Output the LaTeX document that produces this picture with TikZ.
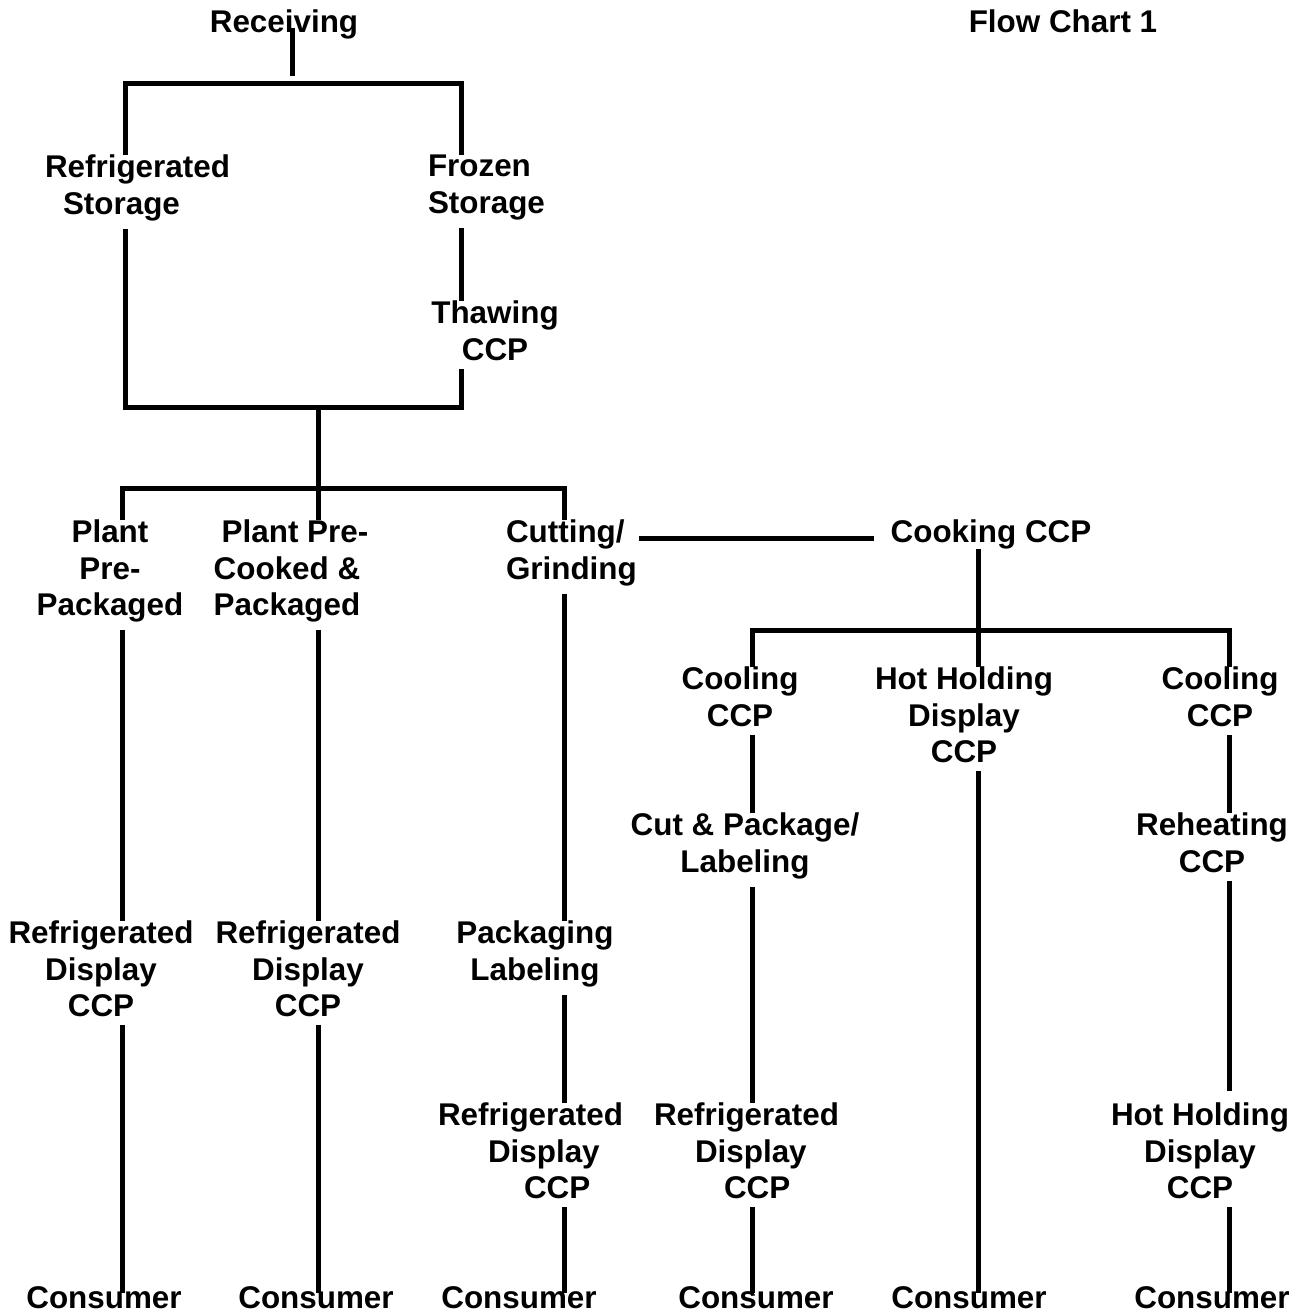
\documentclass[tikz,border=0pt]{standalone}
\usepackage{fontspec}
\setmainfont{Liberation Sans}

\begin{document}
\begin{tikzpicture}[x=1pt, y=-1pt,
                    every node/.style={font=\bfseries\fontsize{31.4}{36.5}\selectfont,
                      inner sep=0pt, outer sep=0pt, align=center, anchor=north},
                    lhs/.style={align=left, anchor=north west},
                    flow/.style={line width=5pt},
                    gapup/.style={shorten <=8pt},
                    intext/.style={shorten >=-6pt}]
\useasboundingbox (0,0) rectangle (1308,1315);

\node (recv) at (284,10) {Receiving};
\node (title) at (1063,10) {Flow Chart 1};
\node[lhs] (rstore) at (45,155) {Refrigerated\\\hspace*{18pt}Storage};
\node[lhs] (fstore) at (428,155) {Frozen\\Storage};
\node (thaw) at (495,301) {Thawing\\CCP};
\node (plant1) at (110,520) {Plant\\Pre-\\Packaged};
\node (plant2) at (287,520) {\hspace*{16pt}Plant Pre-\\Cooked \&\\Packaged};
\node[lhs] (cut) at (506,520) {Cutting/\\Grinding};
\node (cook) at (991,520) {Cooking CCP};
\node (cool1) at (740,667) {Cooling\\CCP};
\node (hold1) at (964,667) {Hot Holding\\Display\\CCP};
\node (cool2) at (1220,667) {Cooling\\CCP};
\node (cpack) at (745,813) {Cut \& Package/\\Labeling};
\node (reheat) at (1212,813) {Reheating\\CCP};
\node (rdisp1) at (101,921) {Refrigerated\\Display\\CCP};
\node (rdisp2) at (308,921) {Refrigerated\\Display\\CCP};
\node (pack) at (535,921) {Packaging\\Labeling};
\node[lhs] (rdisp3) at (438,1103) {Refrigerated\\\hspace*{50pt}Display\\\hspace*{86pt}CCP};
\node[lhs] (rdisp4) at (654,1103) {Refrigerated\\\hspace*{41pt}Display\\\hspace*{70pt}CCP};
\node (hold2) at (1200,1103) {Hot Holding\\Display\\CCP};
\foreach \x/\n in {104/1,316/2,519/3,756/4,969/5,1212/6}
  \node (con\n) at (\x,1287) {Consumer};

\coordinate (t0) at (292,83);
\coordinate (bl) at (125,83);
\coordinate (br) at (461,83);
\coordinate (bl2) at (125,407);
\coordinate (bm) at (318,407);
\coordinate (br2) at (461,407);
\coordinate (b2l) at (122,488);
\coordinate (b2r) at (564,488);
\coordinate (jc) at (874,538);
\coordinate (b3l) at (752,630);
\coordinate (b3m) at (978,630);
\coordinate (b3r) at (1229,630);

\draw[flow, shorten <=3pt, shorten >=7pt] (t0 |- recv.center) -- (t0);
\draw[flow] (rstore.north -| bl) -- (bl) -- (br) -- (fstore.north -| br);
\draw[flow, gapup, shorten >=8pt] (rstore.south -| bl) -- (bl2) -- (br2) -- (thaw.south -| br);
\draw[flow, gapup] (fstore.south -| br) -- (thaw.north -| br);
\draw[flow] (bm) -- (plant2.north -| bm);
\draw[flow] (plant1.north -| b2l) -- (b2l) -- (b2r) -- (cut.north -| b2r);
\draw[flow, gapup] (plant1.south -| b2l) -- (rdisp1.north -| b2l);
\draw[flow, gapup] (plant2.south -| bm) -- (rdisp2.north -| bm);
\draw[flow, gapup] (cut.south -| b2r) -- (pack.north -| b2r);
\draw[flow, gapup] (pack.south -| b2r) -- (rdisp3.north -| b2r);
\draw[flow, shorten <=2pt, shorten >=17pt] (cut.east |- jc) -- (cook.west |- jc);
\draw[flow] (cook.south -| b3m) -- (hold1.north -| b3m);
\draw[flow] (cool1.north -| b3l) -- (b3l) -- (b3r) -- (cool2.north -| b3r);
\draw[flow, gapup] (cool1.south -| b3l) -- (cpack.north -| b3l);
\draw[flow, gapup] (cpack.south -| b3l) -- (rdisp4.north -| b3l);
\draw[flow, gapup] (cool2.south -| b3r) -- (reheat.north -| b3r);
\draw[flow, gapup, shorten >=12pt] (reheat.south -| b3r) -- (hold2.north -| b3r);
\foreach \a/\c/\n in {rdisp1/b2l/1, rdisp2/bm/2, rdisp3/b2r/3, rdisp4/b3l/4, hold1/b3m/5, hold2/b3r/6}
  \draw[flow, gapup, intext] (\a.south -| \c) -- (con\n.north -| \c);
\end{tikzpicture}
\end{document}
